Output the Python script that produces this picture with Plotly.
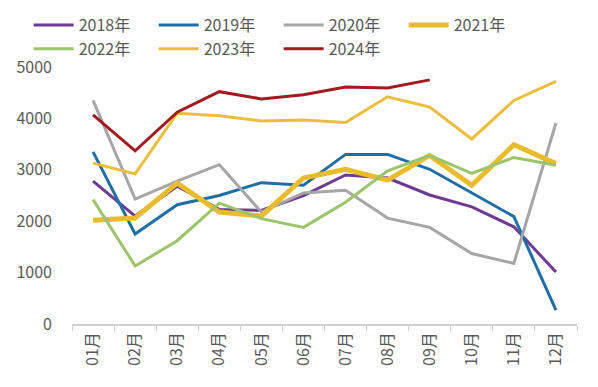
import plotly.graph_objects as go

months = ["01月", "02月", "03月", "04月", "05月", "06月", "07月", "08月", "09月", "10月", "11月", "12月"]
y2018 = [2780, 2100, 2680, 2230, 2210, 2500, 2900, 2840, 2510, 2280, 1890, 1010]
y2019 = [3350, 1750, 2320, 2500, 2750, 2700, 3300, 3300, 3010, 2550, 2090, 270]
y2020 = [4350, 2430, 2780, 3100, 2180, 2550, 2600, 2060, 1880, 1370, 1180, 3910]
y2021 = [2020, 2060, 2740, 2180, 2100, 2840, 3010, 2800, 3280, 2700, 3490, 3120]
y2022 = [2420, 1130, 1620, 2350, 2050, 1880, 2370, 2980, 3280, 2930, 3240, 3090]
y2023 = [3130, 2920, 4100, 4050, 3950, 3970, 3920, 4420, 4220, 3600, 4350, 4720]
y2024 = [4070, 3370, 4120, 4520, 4380, 4460, 4610, 4590, 4750]

series = [
    ("2018年", y2018, "#6E3A94", 3),
    ("2019年", y2019, "#1F6EA6", 3),
    ("2020年", y2020, "#A6A6A6", 3),
    ("2021年", y2021, "#E8BC2C", 5),
    ("2022年", y2022, "#9CC46A", 3),
    ("2023年", y2023, "#EBBD3C", 3),
    ("2024年", y2024, "#A11B1F", 3),
]

fig = go.Figure()
for name, vals, color, w in series:
    fig.add_trace(go.Scatter(
        x=months[:len(vals)], y=vals, name=name, mode="lines",
        line=dict(color=color, width=w),
    ))

font_family = "Noto Sans CJK SC, Liberation Sans, sans-serif"
fig.update_layout(
    width=590, height=379,
    margin=dict(l=64, r=21, t=59, b=63, autoexpand=False),
    plot_bgcolor="white", paper_bgcolor="white",
    font=dict(family=font_family, color="#595959", size=15),
    showlegend=True,
    legend=dict(
        orientation="h", xref="container", yref="container",
        x=0.035, xanchor="left", y=1.0, yanchor="top",
        entrywidth=70, entrywidthmode="pixels",
        font=dict(size=16, color="#595959"),
        bgcolor="rgba(0,0,0,0)", tracegroupgap=0,
        itemwidth=40,
    ),
    xaxis=dict(
        type="category", tickangle=-90, showgrid=False, automargin=False,
        showline=True, linecolor="#D0D0D0", linewidth=1.5,
        ticks="outside", tickson="boundaries", ticklen=5, tickcolor="#D0D0D0",
        tickfont=dict(size=16, color="#595959"),
        range=[-0.5, 11.5],
    ),
    yaxis=dict(
        range=[0, 5000], dtick=1000, showgrid=False, zeroline=False, automargin=False,
        showline=False, tickfont=dict(size=16, color="#595959"),
        ticks="", ticklabelstandoff=19,
    ),
)

fig.write_html("out.html")
